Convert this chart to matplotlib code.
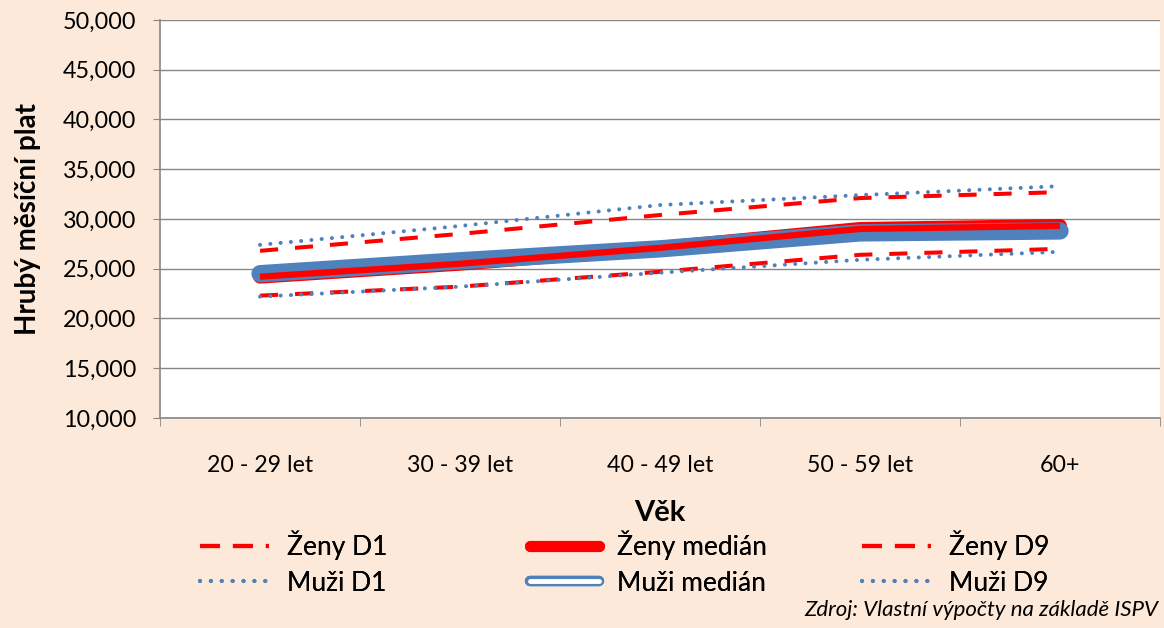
import matplotlib.pyplot as plt
from matplotlib.lines import Line2D
import matplotlib.patheffects as pe

categories = ['20 - 29 let', '30 - 39 let', '40 - 49 let', '50 - 59 let', '60+']
zeny_d1 = [22300, 23200, 24700, 26400, 27000]
zeny_median = [24200, 25500, 27100, 29000, 29300]
zeny_d9 = [26800, 28500, 30400, 32100, 32700]
muzi_d1 = [22200, 23200, 24600, 25900, 26700]
muzi_median = [24500, 25800, 27000, 28600, 28800]
muzi_d9 = [27400, 29300, 31400, 32400, 33300]

RED = '#FF0000'
BLUE = '#4F81BD'
BG = '#FDE9D9'

plt.rcParams['font.family'] = ['Lato', 'DejaVu Sans']

fig = plt.figure(figsize=(11.64, 6.28), dpi=100, facecolor=BG)
ax = fig.add_axes([0.1375, 0.3344, 0.8591, 0.6338])
ax.set_facecolor('white')

x = range(len(categories))

# lines
ax.plot(x, zeny_d1, color=RED, lw=2.9, dashes=(4.5, 4.2), zorder=3)
ax.plot(x, muzi_d1, color=BLUE, lw=2.9, dashes=(0.01, 2.55), dash_capstyle='round', zorder=3)
ax.plot(x, zeny_d9, color=RED, lw=2.9, dashes=(4.5, 4.2), zorder=3)
ax.plot(x, muzi_d9, color=BLUE, lw=2.9, dashes=(0.01, 2.55), dash_capstyle='round', zorder=3)
ax.plot(x, zeny_median, color=RED, lw=10, solid_capstyle='round', zorder=4)
ax.plot(x, muzi_median, color=BLUE, lw=12.5, solid_capstyle='round', zorder=5)
ax.plot(x, zeny_median, color=RED, lw=4.5, solid_capstyle='butt', zorder=6)

ax.set_ylim(10000, 50000)
ax.set_yticks(range(10000, 50001, 5000))
ax.set_yticklabels([f'{v:,}' for v in range(10000, 50001, 5000)], fontsize=16.8)
ax.yaxis.grid(True, color='#868686', lw=1)
ax.set_axisbelow(True)
ax.tick_params(axis='y', length=5, color='#868686', pad=12)

ax.set_xlim(-0.5, len(categories) - 0.5)
ax.set_xticks(list(x))
ax.set_xticklabels(categories, fontsize=16.7)
ax.set_xticks([i - 0.5 for i in range(len(categories) + 1)], minor=True)
ax.tick_params(axis='x', which='major', length=0, pad=27)
ax.tick_params(axis='x', which='minor', length=6, color='#868686')

for side in ['top', 'right']:
    ax.spines[side].set_visible(False)
for side in ['left', 'bottom']:
    ax.spines[side].set_color('#868686')
    ax.spines[side].set_linewidth(1.2)

ax.set_ylabel('Hrubý měsíční plat', fontsize=20, fontweight='bold', labelpad=16)
ax.set_xlabel('Věk', fontsize=21, fontweight='bold', labelpad=17)

# legend, one column at a time
def dashed():
    return Line2D([], [], color=RED, lw=3, dashes=(4.8, 3.1))


def dotted():
    return Line2D([], [], color=BLUE, lw=3, dashes=(0.01, 2.6), dash_capstyle='round')


h_zmed = Line2D([], [], color=RED, lw=8, solid_capstyle='round')
h_mmed = Line2D([], [], color='white', lw=3.5, solid_capstyle='round',
                path_effects=[pe.Stroke(linewidth=7.5, foreground=BLUE), pe.Normal()])

columns = [
    ([dashed(), dotted()], ['Ženy D1', 'Muži D1'], 200),
    ([h_zmed, h_mmed], ['Ženy medián', 'Muži medián'], 530),
    ([dashed(), dotted()], ['Ženy D9', 'Muži D9'], 862),
]
for handles, labels, xpix in columns:
    leg = fig.legend(handles, labels, loc='center left',
                     bbox_to_anchor=(xpix / 1164, 1 - 563 / 628), frameon=False,
                     fontsize=19, handlelength=2.6, handletextpad=0.7,
                     labelspacing=0.4, borderpad=0, borderaxespad=0)
    fig.add_artist(leg)

fig.text(0.995, 0.012, 'Zdroj: Vlastní výpočty na základě ISPV', ha='right', va='bottom',
         fontsize=16, style='italic')

fig.savefig('out.png', dpi=100, facecolor=BG)
